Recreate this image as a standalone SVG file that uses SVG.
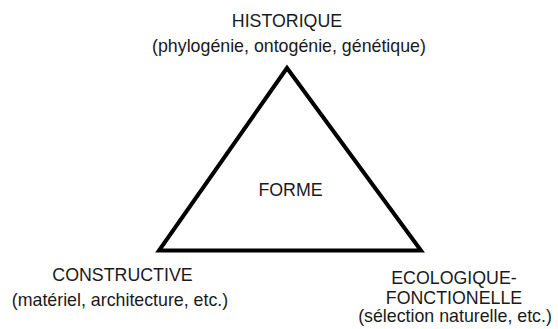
<svg xmlns="http://www.w3.org/2000/svg" width="558" height="329" viewBox="0 0 558 329">
<style>
text{font-family:"Liberation Sans",Arial,Helvetica,sans-serif;font-size:17.8px;fill:#1a1a1a;text-anchor:middle}
.tri{fill:none;stroke:#000;stroke-width:4;stroke-linejoin:miter}
</style>
<rect width="558" height="329" fill="#fff"/>
<g id="connectors">
<polygon class="tri" points="287,68 159,250.5 421,250.5"/>
</g>
<g id="forme"><text x="290.5" y="196">FORME</text></g>
<g id="historique">
<text x="287" y="26.5">HISTORIQUE</text>
<text x="289" y="51.5">(phylogénie, ontogénie, génétique)</text>
</g>
<g id="constructive">
<text x="122.5" y="281">CONSTRUCTIVE</text>
<text x="120" y="306">(matériel, architecture, etc.)</text>
</g>
<g id="ecologique">
<text x="454" y="284.3">ECOLOGIQUE-</text>
<text x="454" y="304">FONCTIONELLE</text>
<text x="455" y="322">(sélection naturelle, etc.)</text>
</g>
</svg>
